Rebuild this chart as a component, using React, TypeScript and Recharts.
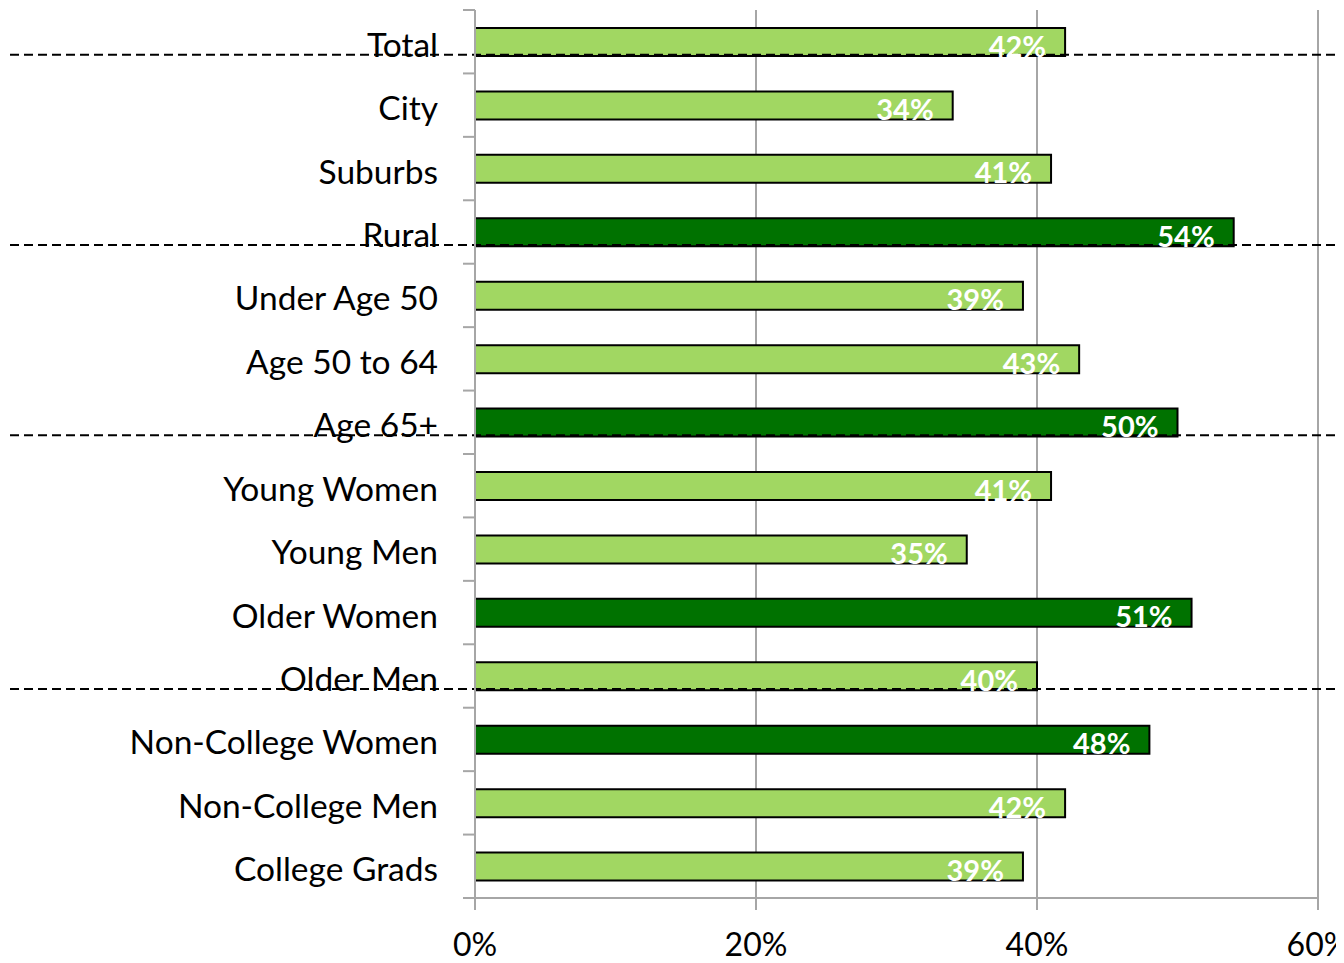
import React from "react";
import {
  BarChart,
  Bar,
  XAxis,
  YAxis,
  CartesianGrid,
  Cell,
  LabelList,
  ReferenceLine,
} from "recharts";

const groups = [
  "Total",
  "City",
  "Suburbs",
  "Rural",
  "Under Age 50",
  "Age 50 to 64",
  "Age 65+",
  "Young Women",
  "Young Men",
  "Older Women",
  "Older Men",
  "Non-College Women",
  "Non-College Men",
  "College Grads",
];
const shares = [42, 34, 41, 54, 39, 43, 50, 41, 35, 51, 40, 48, 42, 39];
const highlighted = ["Rural", "Age 65+", "Older Women", "Non-College Women"];
const sectionEnds = ["Total", "Rural", "Age 65+", "Older Men"];
const xTicks = [0, 20, 40, 60];

const chartData = groups.map((group, i) => ({ group, share: shares[i] }));

const W = 1336;
const H = 955;
const AXIS_X = 467; // yAxis width, left edge of plot
const PLOT_TOP = 2;
const X_AXIS_H = 65;
const HALF_BAND = (H - PLOT_TOP - X_AXIS_H) / groups.length / 2;

const LIGHT = "#a1d762";
const DARK = "#007200";
const GRID = "#a6a6a6";

const GroupTick = (props: any) => {
  const { y, payload, index } = props;
  const last = index === groups.length - 1;
  return (
    <g>
      <line x1={AXIS_X - 12} x2={AXIS_X} y1={y - HALF_BAND} y2={y - HALF_BAND} stroke={GRID} strokeWidth={2} />
      {last && (
        <line x1={AXIS_X - 12} x2={AXIS_X} y1={y + HALF_BAND} y2={y + HALF_BAND} stroke={GRID} strokeWidth={2} />
      )}
      <text x={AXIS_X - 37} y={y} dy={2} textAnchor="end" dominantBaseline="central" fontSize={33.5} fill="#000">
        {payload.value}
      </text>
    </g>
  );
};

const ValueLabel = (props: any) => {
  const { x, y, width, height, value } = props;
  return (
    <text
      x={x + width - 19}
      y={y + height / 2}
      dy={3}
      textAnchor="end"
      dominantBaseline="central"
      fill="#fff"
      fontWeight="bold"
      fontSize={29}
    >
      {value}%
    </text>
  );
};

const SectionLine = (props: any) => {
  const y = props.y1 + 13;
  return <line x1={2} x2={W} y1={y} y2={y} stroke="#000" strokeWidth={2} strokeDasharray="9 5" />;
};

export default function App() {
  return (
    <div style={{ fontFamily: "Lato, 'Open Sans', sans-serif" }}>
      <BarChart
        width={W}
        height={H}
        data={chartData}
        layout="vertical"
        margin={{ top: PLOT_TOP, right: 26, bottom: 0, left: 0 }}
      >
        <CartesianGrid horizontal={false} stroke={GRID} strokeWidth={2} />
        <XAxis
          type="number"
          domain={[0, 60]}
          ticks={xTicks}
          tickFormatter={(v) => `${v}%`}
          height={X_AXIS_H}
          axisLine={{ stroke: GRID, strokeWidth: 2 }}
          tickLine={{ stroke: GRID, strokeWidth: 2 }}
          tickSize={12}
          tickMargin={23}
          tick={{ fill: "#000", fontSize: 32 }}
          interval={0}
        />
        <YAxis
          type="category"
          dataKey="group"
          width={AXIS_X}
          axisLine={{ stroke: GRID, strokeWidth: 2 }}
          tickLine={false}
          tick={<GroupTick />}
          interval={0}
        />
        <Bar dataKey="share" barSize={28} stroke="#000" strokeWidth={2} isAnimationActive={false}>
          {chartData.map((d) => (
            <Cell key={d.group} fill={highlighted.includes(d.group) ? DARK : LIGHT} />
          ))}
          <LabelList dataKey="share" content={<ValueLabel />} />
        </Bar>
        {sectionEnds.map((g) => (
          <ReferenceLine key={g} y={g} shape={SectionLine} />
        ))}
      </BarChart>
    </div>
  );
}
